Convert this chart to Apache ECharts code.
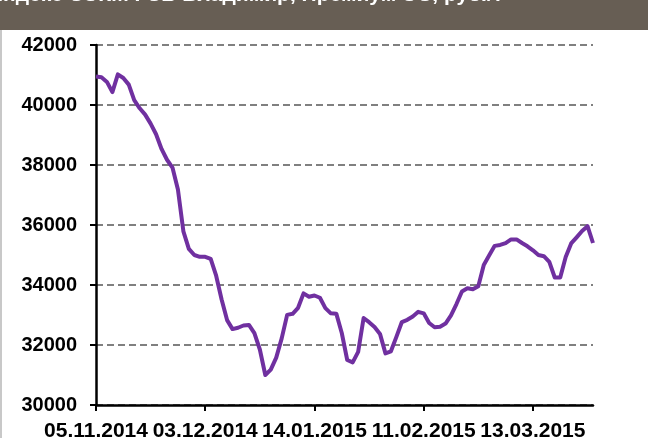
<!DOCTYPE html>
<html>
<head>
<meta charset="utf-8">
<script src="https://cdn.jsdelivr.net/npm/echarts@6/dist/echarts.min.js"></script>
<style>
  html, body { margin: 0; padding: 0; background: #fff; }
  #chart { width: 648px; height: 438px; }
</style>
</head>
<body>
<div id="chart"></div>
<script>
// Price index (one value per trading day)
var prices = [
  40950, 40925, 40770, 40430, 41020, 40900, 40680, 40160, 39890, 39680,
  39380, 39025, 38535, 38175, 37915, 37180, 35790, 35205, 35000, 34940,
  34940, 34870, 34310, 33515, 32830, 32530, 32575, 32650, 32670, 32395,
  31850, 31000, 31180, 31580, 32220, 33005, 33040, 33240, 33720, 33610,
  33650, 33575, 33230, 33055, 33045, 32400, 31500, 31420, 31770, 32900,
  32760, 32600, 32370, 31720, 31790, 32270, 32765, 32840, 32950, 33105,
  33055, 32735, 32590, 32610, 32715, 32985, 33365, 33785, 33890, 33860,
  33960, 34670, 34995, 35305, 35335, 35395, 35520, 35520, 35400, 35290,
  35155, 35000, 34960, 34770, 34250, 34250, 34930, 35385, 35590, 35800,
  35960, 35400
];
var tickDates = ["05.11.2014", "03.12.2014", "14.01.2015", "11.02.2015", "13.03.2015"];
var tickSpacing = 20;   // trading days between labelled ticks
var yTicks = [30000, 42000, 2000];  // min, max, step

var titleText = "Индекс СЭКМ ГСБ Владимир, Премиум ЭС, руб./т";

var chart = echarts.init(document.getElementById("chart"), null, { renderer: "canvas" });

var tickPos = tickDates.map(function (d, i) { return i * tickSpacing; });

chart.setOption({
  animation: false,
  backgroundColor: "#ffffff",
  textStyle: { fontFamily: "Liberation Sans, Arial, sans-serif" },
  graphic: [
    { type: "rect", shape: { x: 0, y: 0, width: 648, height: 30 }, style: { fill: "#675e54" } },
    { type: "rect", shape: { x: 0, y: 30, width: 2, height: 408 }, style: { fill: "#c8c8c8" } },
    {
      type: "text", x: -12, y: -5,
      style: {
        text: titleText, fill: "#ffffff",
        font: "bold 21px 'Liberation Sans', Arial, sans-serif",
        verticalAlign: "middle"
      }
    }
  ],
  // v6 shrinks the grid to keep labels on the canvas; the reference lets them spill
  grid: { left: 96, right: 55, top: 45, bottom: 33, outerBoundsMode: "none" },
  xAxis: {
    type: "value",
    min: 0,
    max: prices.length - 1,
    interval: tickSpacing,
    splitLine: { show: false },
    axisLine: { lineStyle: { color: "#000", width: 2.5 } },
    axisTick: { customValues: tickPos, length: 6, lineStyle: { color: "#000", width: 2 } },
    axisLabel: {
      customValues: tickPos,
      interval: 0,
      hideOverlap: false,
      showMinLabel: true,
      showMaxLabel: true,
      formatter: function (v) { return tickDates[Math.round(v / tickSpacing)] || ""; },
      color: "#000", fontWeight: "bold", fontSize: 21, margin: 16,
      fontFamily: "Liberation Sans, Arial, sans-serif"
    }
  },
  yAxis: {
    type: "value",
    min: yTicks[0],
    max: yTicks[1],
    interval: yTicks[2],
    axisLine: { show: true, lineStyle: { color: "#000", width: 2.5 } },
    axisTick: { show: true, length: 6, lineStyle: { color: "#000", width: 2 } },
    axisLabel: {
      formatter: function (v) { return String(v); },
      color: "#000", fontWeight: "bold", fontSize: 20, margin: 19,
      fontFamily: "Liberation Sans, Arial, sans-serif"
    },
    splitLine: { lineStyle: { color: "#808080", width: 2, type: [7, 4] } }
  },
  series: [{
    type: "line",
    data: prices.map(function (v, i) { return [i, v]; }),
    showSymbol: false,
    lineStyle: { color: "#7030a0", width: 4, join: "round" },
    z: 3
  }]
});
</script>
</body>
</html>
